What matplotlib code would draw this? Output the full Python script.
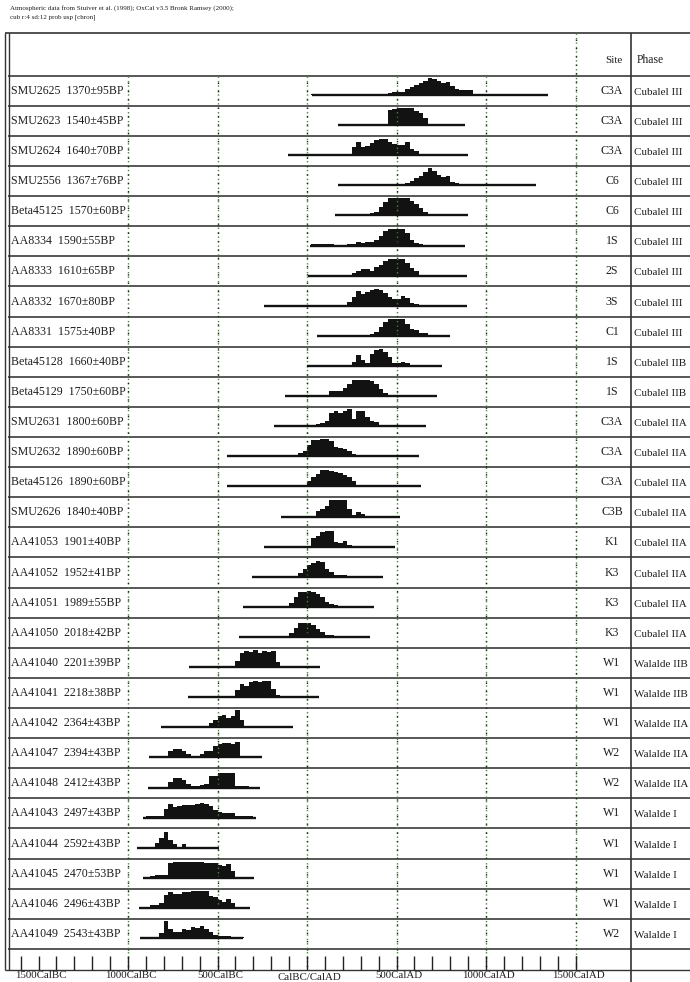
import numpy as np
import matplotlib.pyplot as plt

plt.rcParams['font.family'] = ['Liberation Serif', 'DejaVu Serif']

# ---- data ----
labels = ["SMU2625  1370±95BP", "SMU2623  1540±45BP", "SMU2624  1640±70BP",
          "SMU2556  1367±76BP", "Beta45125  1570±60BP", "AA8334  1590±55BP",
          "AA8333  1610±65BP", "AA8332  1670±80BP", "AA8331  1575±40BP",
          "Beta45128  1660±40BP", "Beta45129  1750±60BP", "SMU2631  1800±60BP",
          "SMU2632  1890±60BP", "Beta45126  1890±60BP", "SMU2626  1840±40BP",
          "AA41053  1901±40BP", "AA41052  1952±41BP", "AA41051  1989±55BP",
          "AA41050  2018±42BP", "AA41040  2201±39BP", "AA41041  2218±38BP",
          "AA41042  2364±43BP", "AA41047  2394±43BP", "AA41048  2412±43BP",
          "AA41043  2497±43BP", "AA41044  2592±43BP", "AA41045  2470±53BP",
          "AA41046  2496±43BP", "AA41049  2543±43BP"]
sites = ["C3A", "C3A", "C3A", "C6", "C6", "1S", "2S", "3S", "C1", "1S", "1S",
         "C3A", "C3A", "C3A", "C3B", "K1", "K3", "K3", "K3", "W1", "W1", "W1",
         "W2", "W2", "W1", "W1", "W1", "W1", "W2"]
phases = ["Cubalel III"] * 9 + ["Cubalel IIB"] * 2 + ["Cubalel IIA"] * 8 + \
         ["Walalde IIB"] * 2 + ["Walalde IIA"] * 3 + ["Walalde I"] * 5

# range line of each date (cal years, BC negative)
line_from = [26, 175, -108, 175, 156, 17, 7, -238, 54, -2, -123, -185, -449, -449,
             -145, -238, -309, -356, -378, -657, -663, -818, -881, -886, -918,
             -948, -918, -938, -933]
line_to = [1344, 882, 901, 1277, 901, 882, 892, 892, 799, 752, 724, 665, 627, 636,
           519, 491, 422, 376, 352, 72, 69, -77, -253, -263, -287, -490, -294,
           -319, -356]

# probability profile: first bin start (cal years) and relative heights, 25-year bins
step = 25
dist_from = [25, 300, 250, 550, 350, 25, 250, 150, 325, 250, -125, 50, -100, -50,
             50, 25, -50, -100, -225, -400, -400, -550, -775, -775, -900, -850,
             -875, -875, -825]
heights = [
    [0.07, 0.07, 0.07, 0.07, 0.07, 0.07, 0.07, 0.07, 0.07, 0.07, 0, 0, 0, 0, 0, 0, 0,
     0.1, 0.15, 0.15, 0.15, 0.35, 0.45, 0.57, 0.7, 0.85, 0.98, 0.95, 0.83, 0.72, 0.75,
     0.55, 0.33, 0.3, 0.28, 0.28],
    [0.05, 0.05, 0.05, 0.05, 0.05, 0.05, 0.9, 0.95, 1.0, 1.0, 1.0, 1.0, 0.85, 0.7, 0.4,
     0, 0, 0, 0.06, 0.06, 0.06, 0.06, 0.06],
    [0.5, 0.75, 0.5, 0.55, 0.7, 0.9, 0.95, 0.95, 0.8, 0.66, 0.62, 0.6, 0.75, 0.35, 0.22,
     0.06, 0.06, 0.06, 0.06, 0.06, 0.06],
    [0.15, 0.25, 0.45, 0.55, 0.8, 1.0, 0.85, 0.62, 0.47, 0.55, 0.2, 0.15, 0.1, 0.1, 0.1],
    [0.15, 0.2, 0.5, 0.8, 1.0, 1.0, 1.0, 1.0, 1.0, 0.85, 0.65, 0.45, 0.22],
    [0.07, 0.07, 0.07, 0.07, 0.07, 0, 0, 0, 0.08, 0.08, 0.2, 0.15, 0.2, 0.2, 0.35, 0.55,
     0.85, 1.0, 0.95, 1.0, 0.95, 0.75, 0.35, 0.15, 0.1],
    [0.15, 0.25, 0.4, 0.4, 0.3, 0.5, 0.65, 0.85, 0.95, 0.96, 1.0, 1.0, 0.75, 0.45, 0.3],
    [0.06, 0.06, 0.06, 0.2, 0.5, 0.85, 0.7, 0.8, 0.92, 1.0, 0.95, 0.75, 0.5, 0.42, 0.4,
     0.6, 0.45, 0.15, 0.12],
    [0.05, 0.13, 0.2, 0.5, 0.8, 1.0, 1.0, 1.0, 1.0, 0.7, 0.4, 0.35, 0.17, 0.15],
    [0.25, 0.65, 0.35, 0.15, 0.7, 0.92, 1.0, 0.8, 0.5, 0.2, 0.17, 0.25, 0.2],
    [0.07, 0.07, 0.07, 0.07, 0.07, 0, 0, 0, 0, 0, 0.27, 0.3, 0.32, 0.45, 0.7, 0.92,
     0.96, 0.96, 0.96, 0.9, 0.7, 0.42, 0.17, 0.06, 0, 0, 0, 0, 0, 0, 0, 0.06, 0.08, 0.06],
    [0.1, 0.16, 0.3, 0.75, 0.87, 0.8, 0.88, 1.0, 0.45, 0.87, 0.92, 0.55, 0.3, 0.22],
    [0.08, 0.1, 0.2, 0.3, 0.65, 0.95, 0.97, 1.0, 1.0, 0.9, 0.55, 0.5, 0.45, 0.3, 0.15,
     0.1, 0.1],
    [0.08, 0.1, 0.3, 0.55, 0.75, 0.94, 0.97, 0.9, 0.85, 0.8, 0.65, 0.55, 0.3, 0.1, 0.1],
    [0.3, 0.45, 0.62, 0.95, 1.0, 1.0, 1.0, 0.45, 0.1, 0.25, 0.12],
    [0.5, 0.6, 0.85, 0.92, 0.9, 0.25, 0.22, 0.33, 0.1],
    [0.2, 0.45, 0.7, 0.78, 0.9, 0.85, 0.45, 0.3, 0.13, 0.13, 0.13],
    [0.2, 0.55, 0.85, 0.9, 0.92, 0.9, 0.75, 0.55, 0.3, 0.15, 0.08],
    [0.05, 0.05, 0.05, 0.05, 0.05, 0.25, 0.55, 0.8, 0.85, 0.82, 0.7, 0.45, 0.3, 0.1, 0.1],
    [0.35, 0.8, 0.95, 0.9, 1.0, 0.85, 0.95, 0.9, 0.95, 0.3],
    [0.4, 0.75, 0.65, 0.88, 0.93, 0.9, 0.93, 0.93, 0.5, 0.1],
    [0.25, 0.45, 0.65, 0.72, 0.55, 0.68, 1.0, 0.4, 0.1],
    [0.35, 0.5, 0.5, 0.35, 0.2, 0.1, 0.06, 0.2, 0.35, 0.38, 0.65, 0.78, 0.85, 0.85, 0.8,
     0.92, 0.06, 0.06, 0.06, 0.06, 0.06],
    [0.35, 0.57, 0.57, 0.45, 0.2, 0.1, 0.08, 0.12, 0.2, 0.65, 0.7, 0.85, 0.85, 0.85, 0.85,
     0.1, 0.06, 0.06],
    [0.08, 0.1, 0.1, 0.12, 0.5, 0.8, 0.64, 0.66, 0.72, 0.75, 0.75, 0.82, 0.85, 0.82, 0.68,
     0.45, 0.32, 0.28, 0.26, 0.26, 0.1, 0.1, 0.1, 0.1],
    [0.25, 0.6, 0.9, 0.45, 0.2, 0.0, 0.22],
    [0.12, 0.15, 0.15, 0.18, 0.9, 0.92, 0.92, 0.92, 0.92, 0.92, 0.92, 0.92, 0.88, 0.85,
     0.88, 0.78, 0.72, 0.8, 0.4],
    [0.15, 0.17, 0.3, 0.75, 0.95, 0.8, 0.8, 0.92, 0.96, 1.0, 1.0, 1.0, 0.97, 0.7, 0.65,
     0.45, 0.35, 0.5, 0.3],
    [0.3, 1.0, 0.55, 0.35, 0.35, 0.55, 0.5, 0.65, 0.62, 0.7, 0.55, 0.35, 0.2, 0.14, 0.14,
     0.12, 0.08, 0.08, 0.08],
]

grid_years = [-1000, -500, 0, 500, 1000]
axis_years = [-1500, -1000, -500, 0, 500, 1000, 1500]
axis_labels = ["1500CalBC", "1000CalBC", "500CalBC", "CalBC/CalAD", "500CalAD",
               "1000CalAD", "1500CalAD"]
header = ["Atmospheric data from Stuiver et al. (1998); OxCal v3.5 Bronk Ramsey (2000);",
          "cub r:4 sd:12 prob usp [chron]"]

# ---- layout (pixels of a 690 x 982 canvas) ----
W, H = 690, 982
top_px, row_px = 75.7, 30.11
n = len(labels)
ylim = ((H - top_px) / row_px, -top_px / row_px)
r_frame = (33 - top_px) / row_px
r_bottom = (970 - top_px) / row_px
r_tick = (956 - top_px) / row_px
r_lab = (976 - top_px) / row_px
px_per_year = 89.5 / 500
x0_px = 307
ink = '#121212'
txt = '#1e1e1e'

fig = plt.figure(figsize=(W / 100, H / 100), dpi=100)
tab = fig.add_axes([0, 0, 1, 1])
tab.set_xlim(0, W)
tab.set_ylim(*ylim)
tab.axis('off')

ax = fig.add_axes([0, 0, 1, 1])
ax.set_xlim(-x0_px / px_per_year, (W - x0_px) / px_per_year)
ax.set_ylim(*ylim)
ax.axis('off')
ax.patch.set_alpha(0)

# table frame
tab.hlines(np.arange(n + 1), 8, W, colors='#4a4a4a', lw=1.3)
tab.hlines([r_frame], 5, W, colors='#333333', lw=1.2)
tab.hlines([r_bottom], 5, W, colors='#333333', lw=1.0)
tab.vlines([5, 8.5], r_frame, r_bottom, colors='#333333', lw=1.0)
tab.vlines([631], r_frame, ylim[0], colors='#333333', lw=1.2)

# dotted grid lines (green + black dots)
ax.vlines(grid_years, 0, r_bottom, colors='#3f8f2f', lw=1.0, linestyles=(0, (1, 2.2)))
ax.vlines(grid_years, 0, r_bottom, colors='#222222', lw=1.0, linestyles=(1.6, (1, 5)))
ax.vlines([1500], r_frame, r_bottom, colors='#3f8f2f', lw=1.0, linestyles=(0, (1, 2.2)))
ax.vlines([1500], r_frame, r_bottom, colors='#222222', lw=1.0, linestyles=(1.6, (1, 5)))

# time axis ticks and labels
ax.vlines(np.arange(-1600, 1501, 100), r_tick, r_bottom, colors='#222222', lw=1.0)
for yr, lab in zip(axis_years, axis_labels):
    dy = 0.06 if yr == 0 else 0.0
    ax.text(yr + 15, r_lab + dy, lab, ha='center', va='center',
            fontsize=7.8, color=txt)

# distributions
peak = 17 / row_px
for i in range(n):
    base = i + 1 - 0.36
    ax.hlines(base, line_from[i], line_to[i], colors=ink, lw=1.7)
    h = np.array(heights[i], dtype=float)
    edges = dist_from[i] + step * np.arange(len(h) + 1)
    ax.fill_between(edges, base, base - np.append(h, h[-1]) * peak,
                    step='post', color=ink, lw=0)

# texts
for i in range(n):
    yc = i + 0.5
    tab.text(11, yc, labels[i], ha='left', va='center', fontsize=8.6, color=txt)
    tab.text(612, yc, sites[i], ha='center', va='center', fontsize=8.6, color=txt)
    tab.text(634, yc + 0.05, phases[i], ha='left', va='center', fontsize=8.0,
             color=txt)
tab.text(614, -0.52, "Site", ha='center', va='center', fontsize=8.0, color=txt)
tab.text(637, -0.52, "Phase", ha='left', va='center', fontsize=8.4, color=txt)
fig.text(10 / W, 1 - 8 / H, header[0], ha='left', va='center', fontsize=5.0, color=txt)
fig.text(10 / W, 1 - 17 / H, header[1], ha='left', va='center', fontsize=5.0, color=txt)

fig.savefig('out.png', dpi=100)
